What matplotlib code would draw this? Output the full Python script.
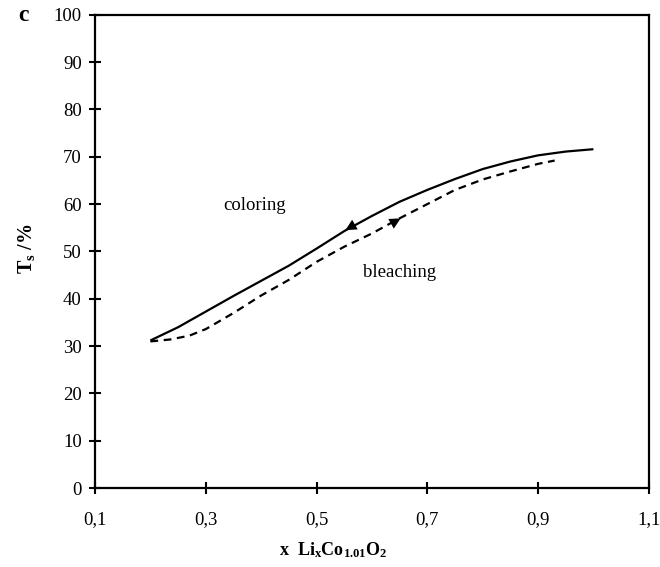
import matplotlib
matplotlib.use("Agg")
import matplotlib.pyplot as plt
import numpy as np

# Data
coloring_x = [0.20, 0.25, 0.30, 0.35, 0.40, 0.45, 0.50, 0.55, 0.60, 0.65, 0.70, 0.75, 0.80, 0.85, 0.90, 0.95, 1.00]
coloring_y = [31.2, 34.0, 37.3, 40.6, 43.8, 47.0, 50.6, 54.3, 57.5, 60.5, 63.0, 65.3, 67.4, 69.0, 70.3, 71.1, 71.6]
bleaching_x = [0.20, 0.235, 0.27, 0.30, 0.35, 0.40, 0.45, 0.50, 0.55, 0.60, 0.65, 0.70, 0.75, 0.80, 0.85, 0.90, 0.93]
bleaching_y = [31.0, 31.4, 32.2, 33.6, 37.0, 40.7, 44.0, 47.8, 51.0, 53.8, 57.0, 60.0, 63.0, 65.2, 66.9, 68.5, 69.2]
x_ticks = [0.1, 0.3, 0.5, 0.7, 0.9, 1.1]
x_ticklabels = ["0,1", "0,3", "0,5", "0,7", "0,9", "1,1"]
y_ticks = [0, 10, 20, 30, 40, 50, 60, 70, 80, 90, 100]

plt.rcParams['font.family'] = ['Liberation Serif', 'DejaVu Serif']
plt.rcParams['mathtext.fontset'] = 'custom'
plt.rcParams['mathtext.rm'] = 'Liberation Serif'
plt.rcParams['mathtext.it'] = 'Liberation Serif:italic'
plt.rcParams['mathtext.bf'] = 'Liberation Serif:bold'

fig = plt.figure(figsize=(6.6, 5.67), dpi=100)
ax = fig.add_axes([0.144, 0.139, 0.839, 0.835])

ax.plot(coloring_x, coloring_y, color='black', lw=1.6, solid_capstyle='butt')
ax.plot(bleaching_x, bleaching_y, color='black', lw=1.6, linestyle=(0, (3.5, 2.5)))

# direction arrows
ax.annotate('', xy=(0.552, 54.5), xytext=(0.58, 56.4),
            arrowprops=dict(arrowstyle='-|>', color='black', lw=0, mutation_scale=20, shrinkA=0, shrinkB=0))
ax.annotate('', xy=(0.652, 57.0), xytext=(0.622, 55.0),
            arrowprops=dict(arrowstyle='-|>', color='black', lw=0, mutation_scale=20, shrinkA=0, shrinkB=0))

ax.text(0.388, 59.8, 'coloring', fontsize=13.5, ha='center', va='center')
ax.text(0.65, 45.5, 'bleaching', fontsize=13.5, ha='center', va='center')

ax.set_xlim(0.1, 1.1)
ax.set_ylim(0, 100)
ax.set_xticks(x_ticks)
ax.set_xticklabels(x_ticklabels)
ax.set_yticks(y_ticks)
ax.tick_params(direction='inout', length=9, width=1.5, labelsize=13.5)
ax.tick_params(axis='y', pad=5)
ax.tick_params(axis='x', pad=12)
for s in ax.spines.values():
    s.set_linewidth(1.6)

ax.set_xlabel(r'x  Li$_\mathbf{x}$Co$_\mathbf{1.01}$O$_\mathbf{2}$', fontsize=13, fontweight='bold')
ax.xaxis.set_label_coords(0.43, -0.11)
ax.set_ylabel(r'T$_\mathbf{s}$ /%', fontsize=14.5, fontweight='bold')
ax.yaxis.set_label_coords(-0.104, 0.505)
fig.text(0.027, 0.972, 'c', fontsize=17, fontweight='bold', ha='left', va='center')

fig.savefig('out.png', dpi=100)
